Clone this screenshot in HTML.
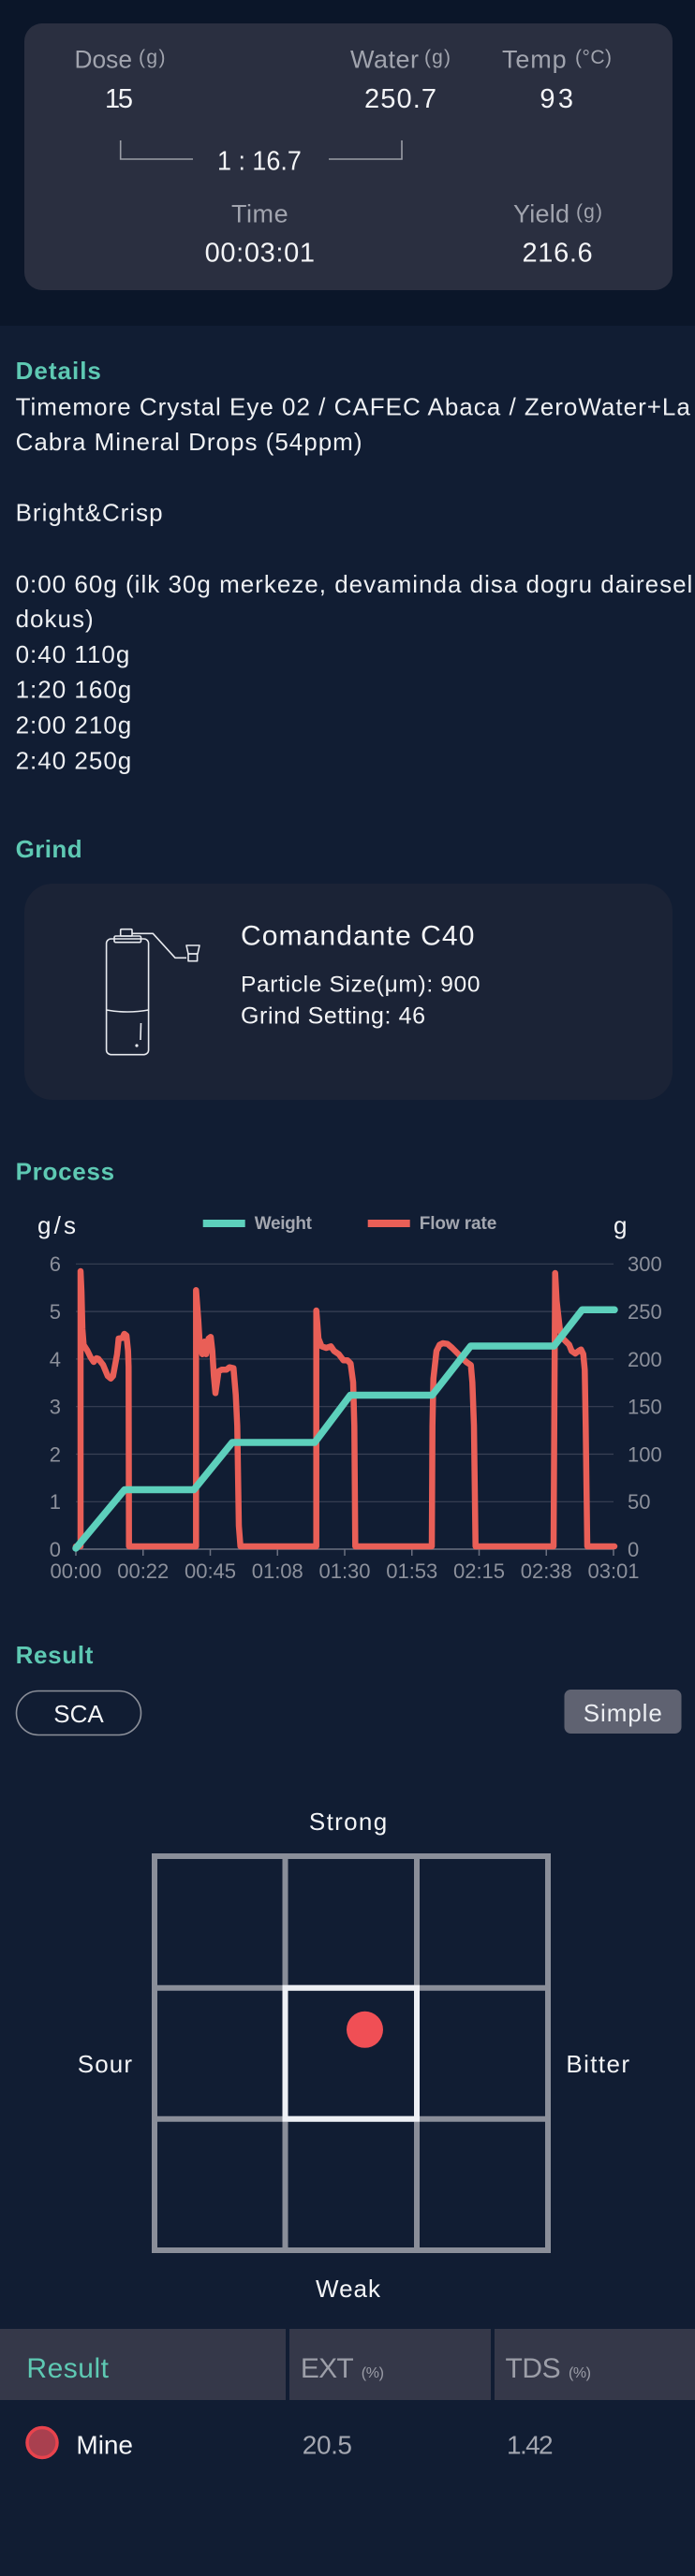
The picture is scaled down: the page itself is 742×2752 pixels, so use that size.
<!DOCTYPE html>
<html>
<head>
<meta charset="utf-8">
<style>
html,body{margin:0;padding:0;}
body{width:742px;height:2752px;overflow:hidden;background:#111d33;}
svg{display:block;font-family:"Liberation Sans","Noto Sans CJK SC",sans-serif;}
.lab{fill:#a1a4ae;font-size:27px;}
.unit{fill:#a1a4ae;font-size:21px;}
.val{fill:#f4f5f7;font-size:29px;}
.h{fill:#5ec9b3;font-size:26px;font-weight:bold;}
.body{fill:#eef0f3;font-size:26px;letter-spacing:1px;}
.ax{fill:#8c909b;font-size:22px;}
.wt{fill:#f4f5f7;font-size:26px;}
</style>
</head>
<body>
<svg width="742" height="2752" viewBox="0 0 742 2752" xmlns="http://www.w3.org/2000/svg">
  <!-- backgrounds -->
  <rect x="0" y="0" width="742" height="348" fill="#0b1629"/>
  <rect x="0" y="348" width="742" height="2404" fill="#111d33"/>

  <!-- top card -->
  <rect x="26" y="25" width="692" height="285" rx="19" fill="#2a2f40"/>
  <text x="79.5" y="72.3" class="lab" textLength="61.5" lengthAdjust="spacingAndGlyphs">Dose</text>
  <text x="148" y="68" class="unit" textLength="28.5">(g)</text>
  <text x="112" y="115" class="val" textLength="30">15</text>
  <text x="374" y="72.3" class="lab" textLength="73">Water</text>
  <text x="453" y="68" class="unit" textLength="28">(g)</text>
  <text x="389" y="115" class="val" textLength="77">250.7</text>
  <text x="536" y="72.3" class="lab" textLength="68.6">Temp</text>
  <text x="614" y="68" class="unit" textLength="39">(°C)</text>
  <text x="576.4" y="115" class="val" textLength="35.6">93</text>
  <path d="M128.7,150 V170 H206 M351,170 H429 V150" stroke="#9a9da6" stroke-width="1.6" fill="none"/>
  <text x="232" y="181.7" class="val" textLength="89.8" lengthAdjust="spacingAndGlyphs">1 : 16.7</text>
  <text x="247" y="237.3" class="lab" textLength="60.6">Time</text>
  <text x="218.6" y="279.3" class="val" textLength="117.4">00:03:01</text>
  <text x="548" y="237.3" class="lab" textLength="60">Yield</text>
  <text x="615" y="233" class="unit" textLength="28">(g)</text>
  <text x="557.5" y="279.3" class="val" textLength="75.2">216.6</text>

  <!-- Details -->
  <text x="16.6" y="405" class="h" textLength="91.3">Details</text>
  <text x="16.6" y="443.3" class="body">Timemore Crystal Eye 02 / CAFEC Abaca / ZeroWater+La</text>
  <text x="16.6" y="481.1" class="body">Cabra Mineral Drops (54ppm)</text>
  <text x="16.6" y="556.7" class="body">Bright&amp;Crisp</text>
  <text x="16.6" y="632.8" class="body">0:00 60g (ilk 30g merkeze, devaminda disa dogru dairesel</text>
  <text x="16.6" y="670.1" class="body">dokus)</text>
  <text x="16.6" y="707.9" class="body">0:40 110g</text>
  <text x="16.6" y="745.7" class="body">1:20 160g</text>
  <text x="16.6" y="783.5" class="body">2:00 210g</text>
  <text x="16.6" y="821.3" class="body">2:40 250g</text>

  <!-- Grind -->
  <text x="16.6" y="916" class="h" textLength="71">Grind</text>
  <rect x="26" y="944" width="692" height="231" rx="30" fill="#1b2336"/>
  <g stroke="#e8eaef" stroke-width="1.6" fill="none" stroke-linejoin="round">
    <rect x="113.6" y="1003" width="45" height="123.7" rx="5"/>
    <rect x="122" y="1000" width="28.5" height="6.7" rx="1.5"/>
    <rect x="128.7" y="992.7" width="12.3" height="7.3" rx="1"/>
    <path d="M113.6,1079 Q136,1083 158.5,1079"/>
    <path d="M141,997.3 H163.3 L187,1023.3 H199"/>
    <path d="M199,1010 H213 L211,1019 H201 Z"/>
    <rect x="201" y="1019" width="9.6" height="7.7"/>
    <path d="M150.5,1093 L150,1111"/>
    <circle cx="146" cy="1117" r="0.8"/>
  </g>
  <text x="257" y="1009.3" class="wt" style="font-size:30px" textLength="249.4">Comandante C40</text>
  <text x="257" y="1059.3" class="wt" style="font-size:24.5px" textLength="255.5">Particle Size(μm): 900</text>
  <text x="257" y="1093.3" class="wt" style="font-size:25px" textLength="197">Grind Setting: 46</text>

  <!-- Process -->
  <text x="16.6" y="1260.7" class="h" textLength="105.5">Process</text>
  <text x="40" y="1318" class="wt" textLength="41">g/s</text>
  <text x="655" y="1318" class="wt">g</text>
  <rect x="216.7" y="1303" width="45" height="8" fill="#5dd0bc"/>
  <text x="271.7" y="1313" style="font-size:19px;font-weight:bold;fill:#a4a7b0" textLength="61.3">Weight</text>
  <rect x="392.7" y="1303" width="45" height="8" fill="#e95f57"/>
  <text x="447.7" y="1313" style="font-size:19px;font-weight:bold;fill:#a4a7b0" textLength="82.6">Flow rate</text>

  <g stroke="#394155" stroke-width="1.2">
    <line x1="81" y1="1350.3" x2="655" y2="1350.3"/>
    <line x1="81" y1="1401.1" x2="655" y2="1401.1"/>
    <line x1="81" y1="1451.9" x2="655" y2="1451.9"/>
    <line x1="81" y1="1502.7" x2="655" y2="1502.7"/>
    <line x1="81" y1="1553.5" x2="655" y2="1553.5"/>
    <line x1="81" y1="1604.3" x2="655" y2="1604.3"/>
  </g>
  <g stroke="#6b7080" stroke-width="1.5">
    <line x1="81" y1="1655" x2="655" y2="1655"/>
    <line x1="81" y1="1655" x2="81" y2="1662"/>
    <line x1="152.75" y1="1655" x2="152.75" y2="1662"/>
    <line x1="224.5" y1="1655" x2="224.5" y2="1662"/>
    <line x1="296.25" y1="1655" x2="296.25" y2="1662"/>
    <line x1="368" y1="1655" x2="368" y2="1662"/>
    <line x1="439.75" y1="1655" x2="439.75" y2="1662"/>
    <line x1="511.5" y1="1655" x2="511.5" y2="1662"/>
    <line x1="583.25" y1="1655" x2="583.25" y2="1662"/>
    <line x1="655" y1="1655" x2="655" y2="1662"/>
  </g>
  <g class="ax" text-anchor="end">
    <text x="65" y="1358.2">6</text>
    <text x="65" y="1409">5</text>
    <text x="65" y="1459.8">4</text>
    <text x="65" y="1510.6">3</text>
    <text x="65" y="1561.4">2</text>
    <text x="65" y="1612.2">1</text>
    <text x="65" y="1663">0</text>
  </g>
  <g class="ax">
    <text x="670" y="1358.2">300</text>
    <text x="670" y="1409">250</text>
    <text x="670" y="1459.8">200</text>
    <text x="670" y="1510.6">150</text>
    <text x="670" y="1561.4">100</text>
    <text x="670" y="1612.2">50</text>
    <text x="670" y="1663">0</text>
  </g>
  <g class="ax" text-anchor="middle">
    <text x="81" y="1686">00:00</text>
    <text x="152.75" y="1686">00:22</text>
    <text x="224.5" y="1686">00:45</text>
    <text x="296.25" y="1686">01:08</text>
    <text x="368" y="1686">01:30</text>
    <text x="439.75" y="1686">01:53</text>
    <text x="511.5" y="1686">02:15</text>
    <text x="583.25" y="1686">02:38</text>
    <text x="655" y="1686">03:01</text>
  </g>

  <polyline fill="none" stroke="#e95f57" stroke-width="6.5" stroke-linejoin="round" stroke-linecap="round" points="81,1652 86,1652 86,1358 87,1380 88,1420 89.3,1436.7 93.3,1443 96.7,1450 100,1455 103,1451 105,1451.7 110,1458 115,1470 118.3,1472.7 120.7,1470 125,1446.7 126.7,1430 130.7,1429.3 132.7,1425 135,1426.7 136.7,1443 137.3,1460 137.7,1652 209.3,1652 209.3,1378.3 211.7,1410 213.3,1436.7 216,1446.7 218.3,1433.3 220,1446.7 222.7,1430 225,1428.3 226.7,1443.3 228.3,1470 230,1488.3 231.7,1476.7 233.3,1465 236.7,1463.3 241.7,1463.3 245,1460.7 249.3,1461.7 251.7,1490 253.3,1523 255,1630 256.7,1652 337.7,1652 337.7,1400 340,1430 343.3,1438.3 348.3,1440 353.3,1438.3 356.7,1443.3 361.7,1446.7 366.7,1453.3 371,1453.3 374.3,1456.7 377,1476.7 378.3,1523 379.3,1652 461,1652 461.7,1523 462.7,1473 466,1443.3 469.3,1436.7 472.7,1435 477.7,1435.7 482.7,1440 487.7,1445 492.7,1450 497.7,1455 502.7,1458.3 504.3,1476.7 506,1523 507.7,1652 591,1652 592.7,1360 594.3,1390 597.7,1420 601,1430 604.3,1433.3 607.7,1436.7 610.3,1443.3 614.3,1446 617.7,1443.3 620.3,1441.7 622.7,1446.7 624.3,1463.3 625.3,1523 627,1652 656,1652"/>
  <polyline fill="none" stroke="#5dd0bc" stroke-width="7.5" stroke-linejoin="round" stroke-linecap="round" points="81,1654 133,1591.5 207,1591.5 248,1541 336,1541 374,1490.5 461.5,1490.5 502.5,1438 591.5,1438 621.5,1399.3 656,1399.3"/>

  <!-- Result -->
  <text x="16.6" y="1777" class="h" textLength="82.8">Result</text>
  <rect x="17.5" y="1806.5" width="133" height="47" rx="23.5" fill="none" stroke="#8c909a" stroke-width="1.6"/>
  <text x="84" y="1840" class="wt" text-anchor="middle">SCA</text>
  <rect x="602.5" y="1805" width="125" height="47" rx="7" fill="#5f6271"/>
  <text x="622.8" y="1839" class="wt" style="fill:#eceef2" textLength="84">Simple</text>

  <text x="329.9" y="1955" class="wt" textLength="83.3">Strong</text>
  <g stroke="#8a8e99" stroke-width="6" fill="none">
    <rect x="165" y="1983" width="420" height="421"/>
    <line x1="304.5" y1="1983" x2="304.5" y2="2404"/>
    <line x1="445" y1="1983" x2="445" y2="2404"/>
    <line x1="165" y1="2123.7" x2="585" y2="2123.7"/>
    <line x1="165" y1="2263.7" x2="585" y2="2263.7"/>
  </g>
  <rect x="304.5" y="2123.7" width="140.5" height="140" fill="none" stroke="#eef0f5" stroke-width="6"/>
  <circle cx="389.5" cy="2168.3" r="19.5" fill="#f04f55"/>
  <text x="82.8" y="2214" class="wt" textLength="58.2">Sour</text>
  <text x="604.4" y="2214" class="wt" textLength="67.6">Bitter</text>
  <text x="337" y="2454" class="wt" textLength="69">Weak</text>

  <!-- table -->
  <rect x="0" y="2488" width="305" height="76" fill="#353849"/>
  <rect x="309" y="2488" width="215" height="76" fill="#353849"/>
  <rect x="528" y="2488" width="214" height="76" fill="#353849"/>
  <text x="28.4" y="2540" style="font-size:30px;fill:#5ec9b3" textLength="87.6">Result</text>
  <text x="320.9" y="2540" style="font-size:30px;fill:#9c9ea8" textLength="56.8">EXT</text>
  <text x="385.7" y="2540" style="font-size:16px;fill:#9c9ea8" textLength="24.3">(%)</text>
  <text x="539.5" y="2540" style="font-size:30px;fill:#9c9ea8" textLength="59.2">TDS</text>
  <text x="607" y="2540" style="font-size:16px;fill:#9c9ea8" textLength="24">(%)</text>
  <circle cx="45" cy="2609.5" r="16" fill="#a9404f" stroke="#e8434d" stroke-width="3.5"/>
  <text x="81.4" y="2621.7" style="font-size:28px;fill:#f4f5f7" textLength="60.6">Mine</text>
  <text x="322.8" y="2621.7" style="font-size:28px;fill:#a3a6b0" textLength="53.2">20.5</text>
  <text x="541" y="2621.7" style="font-size:28px;fill:#a3a6b0" textLength="49.6">1.42</text>
</svg>
</body>
</html>
